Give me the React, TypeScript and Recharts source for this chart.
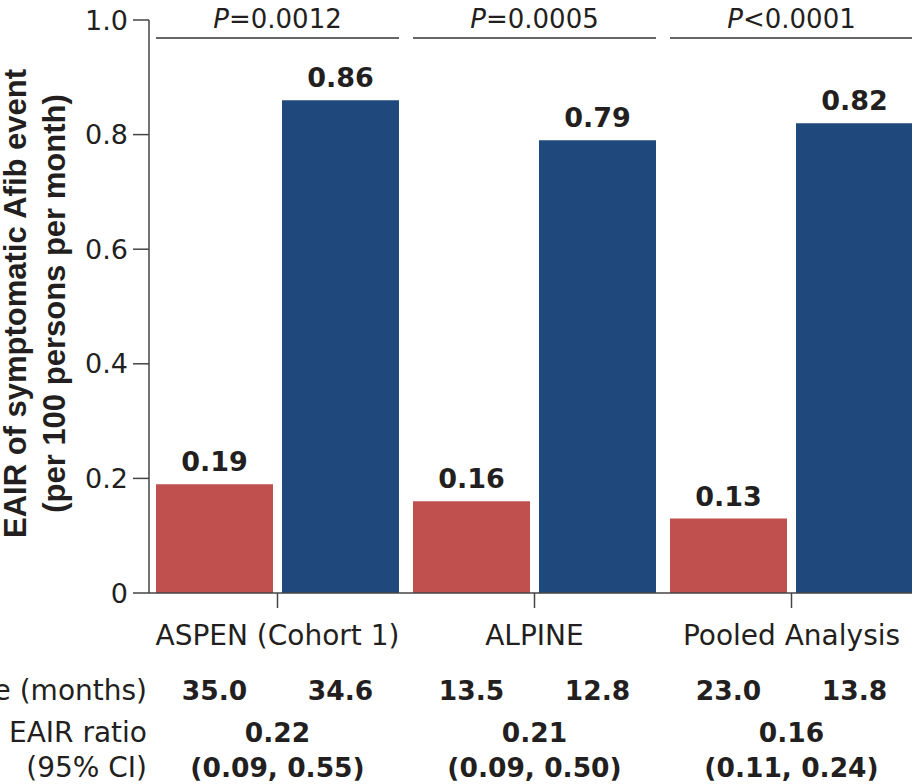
import { Bar, BarChart, Label, LabelList, XAxis, YAxis } from "recharts";

const CATEGORIES = ["ASPEN (Cohort 1)", "ALPINE", "Pooled Analysis"];
const ZANU_EAIR = [0.19, 0.16, 0.13];
const IBRU_EAIR = [0.86, 0.79, 0.82];
const P_VALUES = ["=0.0012", "=0.0005", "<0.0001"];
const ZANU_EXPOSURE = ["35.0", "13.5", "23.0"];
const IBRU_EXPOSURE = ["34.6", "12.8", "13.8"];
const EAIR_RATIOS = ["0.22", "0.21", "0.16"];
const RATIO_CIS = ["(0.09, 0.55)", "(0.09, 0.50)", "(0.11, 0.24)"];
const ROW_LABELS = ["Median exposure (months)", "EAIR ratio", "(95% CI)"];
const Y_TICKS = [0, 0.2, 0.4, 0.6, 0.8, 1.0];

const RED = "#C0504D";
const BLUE = "#1F497D";
const INK = "#231F20";
const AXIS = "#444";
const FONT = "DejaVu Sans";
const TITLE_FONT = "Liberation Sans";

// layout
const PLOT_LEFT = 149;
const BAR_SIZE = 117;
const BAR_GAP = 9;
const BAR_SHIFT = (BAR_SIZE + BAR_GAP) / 2;
const SPAN_HALF = BAR_SIZE + BAR_GAP / 2;

const data = CATEGORIES.map((name, i) => ({
  name,
  zanubrutinib: ZANU_EAIR[i],
  ibrutinib: IBRU_EAIR[i],
}));

function PValueTick({ x, y, payload }: any) {
  const i = CATEGORIES.indexOf(payload.value);
  return (
    <g>
      <text x={x} y={y + 8} textAnchor="middle" fontFamily={FONT} fontSize={26} fill={INK}>
        <tspan fontStyle="italic">P</tspan>
        {P_VALUES[i]}
      </text>
      <line x1={x - SPAN_HALF} x2={x + SPAN_HALF} y1={y + 18} y2={y + 18} stroke="#333" strokeWidth={1.5} />
    </g>
  );
}

function CategoryTick({ x, y, payload }: any) {
  const i = CATEGORIES.indexOf(payload.value);
  const bold = { fontFamily: FONT, fontSize: 26.5, fontWeight: 700, fill: INK, textAnchor: "middle" as const };
  const plain = { fontFamily: FONT, fontSize: 28, fill: INK };
  return (
    <g>
      <text x={x} y={y + 37} textAnchor="middle" {...plain}>
        {payload.value}
      </text>
      <text x={x - BAR_SHIFT} y={y + 92} {...bold}>
        {ZANU_EXPOSURE[i]}
      </text>
      <text x={x + BAR_SHIFT} y={y + 92} {...bold}>
        {IBRU_EXPOSURE[i]}
      </text>
      <text x={x} y={y + 134} {...bold}>
        {EAIR_RATIOS[i]}
      </text>
      <text x={x} y={y + 169} {...bold}>
        {RATIO_CIS[i]}
      </text>
      {i === 0 &&
        ROW_LABELS.map((label, r) => (
          <text key={label} x={PLOT_LEFT - 2} y={y + [92, 134, 169][r]} textAnchor="end" {...plain}>
            {label}
          </text>
        ))}
    </g>
  );
}

function YTitle({ viewBox }: any) {
  const cy = viewBox.y + viewBox.height / 2 - 3;
  const style = { fontFamily: TITLE_FONT, fontSize: 31, fontWeight: 700, fill: INK, textAnchor: "middle" as const };
  return (
    <g>
      <text transform={`translate(${viewBox.x + 26}, ${cy}) rotate(-90)`} {...style}>
        EAIR of symptomatic Afib event
      </text>
      <text transform={`translate(${viewBox.x + 65}, ${cy}) rotate(-90)`} {...style}>
        (per 100 persons per month)
      </text>
    </g>
  );
}

export default function App() {
  return (
    <div style={{ position: "absolute", left: 0, top: 0, width: 912, height: 784, overflow: "hidden", background: "#fff" }}>
      <BarChart
        width={920}
        height={784}
        data={data}
        margin={{ top: 0, right: 0, bottom: 0, left: 0 }}
        barSize={BAR_SIZE}
        barGap={BAR_GAP}
      >
        <XAxis
          xAxisId="top"
          orientation="top"
          dataKey="name"
          height={20}
          interval={0}
          axisLine={false}
          tickLine={false}
          tickSize={0}
          tickMargin={0}
          tick={<PValueTick />}
        />
        <XAxis
          xAxisId="bottom"
          dataKey="name"
          height={191}
          interval={0}
          tickSize={15}
          tickMargin={0}
          axisLine={{ stroke: AXIS, strokeWidth: 1.5 }}
          tickLine={{ stroke: AXIS, strokeWidth: 1.5 }}
          tick={<CategoryTick />}
        />
        <YAxis
          width={PLOT_LEFT}
          domain={[0, 1]}
          ticks={Y_TICKS}
          tickSize={16}
          tickMargin={5}
          tickFormatter={(v: number) => (v === 0 ? "0" : v.toFixed(1))}
          tick={{ fontFamily: FONT, fontSize: 27, fill: INK }}
          axisLine={{ stroke: AXIS, strokeWidth: 1.5 }}
          tickLine={{ stroke: AXIS, strokeWidth: 1.5 }}
        >
          <Label content={<YTitle />} />
        </YAxis>
        <Bar dataKey="zanubrutinib" xAxisId="bottom" fill={RED} isAnimationActive={false}>
          <LabelList
            dataKey="zanubrutinib"
            position="top"
            offset={13}
            formatter={(v: any) => Number(v).toFixed(2)}
            fontFamily={FONT}
            fontSize={27}
            fontWeight={700}
            fill={INK}
          />
        </Bar>
        <Bar dataKey="ibrutinib" xAxisId="bottom" fill={BLUE} isAnimationActive={false}>
          <LabelList
            dataKey="ibrutinib"
            position="top"
            offset={13}
            formatter={(v: any) => Number(v).toFixed(2)}
            fontFamily={FONT}
            fontSize={27}
            fontWeight={700}
            fill={INK}
          />
        </Bar>
      </BarChart>
    </div>
  );
}
